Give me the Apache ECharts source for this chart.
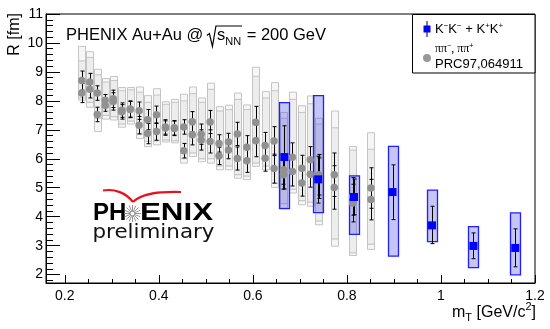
<!DOCTYPE html>
<html><head><meta charset="utf-8">
<script src="https://cdn.jsdelivr.net/npm/echarts@6/dist/echarts.min.js"></script>
<style>html,body{margin:0;padding:0;background:#fff}#c{width:550px;height:329px}</style>
</head><body><div id="c"></div>
<script>
// ---------- data ----------
const mT_pi   = [0.236,0.253,0.269,0.286,0.303,0.321,0.339,0.358,0.376,0.395,0.414,0.433,0.453,0.471,0.490,0.509,0.528,0.548,0.567,0.587,0.606,0.626,0.645,0.665,0.684,0.704,0.722,0.740,0.773,0.812,0.851];
const R_piA   = [8.70,8.65,8.27,8.02,8.07,7.68,7.72,7.66,7.35,7.52,7.10,7.07,7.10,7.28,6.85,7.27,6.53,6.58,6.86,6.40,7.26,6.46,6.61,5.62,6.05,5.67,5.97,5.45,5.45,4.70,4.99];
const R_piB   = [8.27,8.40,7.53,7.84,7.98,7.62,7.70,7.16,6.87,6.94,7.06,7.05,6.28,6.83,6.65,6.60,6.10,6.30,6.01,5.93,6.62,6.02,5.66,5.45,5.56,5.16,5.47,5.33,5.01,4.47,4.59];
const piStat  = [0.33,0.30,0.25,0.20,0.30,0.25,0.28,0.30,0.35,0.30,0.25,0.25,0.25,0.35,0.35,0.40,0.30,0.30,0.40,0.40,0.55,0.45,0.50,0.50,0.50,0.45,0.45,0.70,0.75,0.65,0.70];
const sysA_hi = [9.88,9.70,9.09,8.77,8.84,8.46,8.46,8.48,8.18,8.42,7.97,8.05,8.23,8.48,8.10,8.61,7.80,7.85,8.27,7.86,9.16,8.32,8.63,7.60,8.30,7.83,8.17,7.40,7.65,6.42,6.90];
const sysA_lo = [8.10,7.95,7.40,7.50,7.45,7.20,7.30,6.85,6.60,6.62,6.65,6.62,6.00,6.20,6.00,6.00,5.75,5.75,5.45,5.40,5.85,5.75,5.15,4.45,4.95,4.55,4.50,3.85,3.23,2.75,3.05];
const sysB_hi = [9.38,9.50,8.90,8.65,8.70,8.35,8.38,8.30,7.95,8.20,7.88,7.95,8.00,8.25,7.95,8.40,7.65,7.70,8.05,7.70,8.85,8.10,8.35,7.40,8.05,7.60,7.90,7.20,7.07,6.30,6.33];
const sysB_lo = [8.02,7.78,6.94,7.37,7.34,7.09,7.20,6.70,6.42,6.48,6.58,6.55,5.85,6.08,5.90,5.85,5.62,5.62,5.33,5.28,5.74,5.62,5.01,4.30,4.82,4.41,4.36,3.72,2.98,2.66,2.87];

const mT_K    = [0.667,0.739,0.815,0.897,0.981,1.069,1.158];
const R_K     = [6.06,5.29,4.68,4.85,3.70,2.99,2.92];
const K_statHi= [7.14,6.09,5.30,5.79,4.36,3.44,3.58];
const K_statLo= [4.96,4.47,4.07,3.90,3.07,2.55,2.27];
const K_sysHi = [7.94,8.18,5.41,6.43,4.92,3.66,4.13];
const K_sysLo = [4.28,4.14,3.39,2.64,3.14,2.24,1.99];

const xMajorTicks = [0.2,0.4,0.6,0.8,1,1.2];
const yMajorTicks = [2,3,4,5,6,7,8,9,10,11];
const xMinorTicks = [0.25,0.3,0.35,0.45,0.5,0.55,0.65,0.7,0.75,0.85,0.9,0.95,1.05,1.1,1.15];
const yMinorTicks = [];
for (let v = 18; v <= 108; v += 2) { if (v % 10 !== 0) yMinorTicks.push(v / 10); }

// ---------- helpers ----------
const FONT = '"Liberation Sans", Arial, Helvetica, sans-serif';
const cv = document.createElement('canvas').getContext('2d');
function fontStr(size, weight, fam){ return (weight||'normal') + ' ' + size + 'px ' + (fam||FONT); }
function tw(t, f){ cv.font = f; return cv.measureText(t).width; }
function textEl(x, base, t, size, o){
  o = o || {};
  const f = fontStr(size, o.weight, o.family);
  return {type:'text', x:x, y:base - 0.35*size, scaleX:o.scaleX||1, z:100,
    style:{text:t, font:f, fill:o.fill||'#000', align:'left', verticalAlign:'middle'}};
}
function seq(x, base, parts, align){
  const ws = parts.map(p => tw(p.t, fontStr(p.s, p.w, p.f)));
  const total = ws.reduce((a,b)=>a+b,0);
  if (align === 'right') x -= total;
  const els = []; let cx = x;
  parts.forEach((p,i) => { els.push(textEl(cx, base + (p.dy||0), p.t, p.s, {weight:p.w, family:p.f})); cx += ws[i]; });
  return {els, end:cx, start:x};
}

const graphics = [];
// Title
(function(){
  const S = 16.5, B = 41.5, x0 = 66;
  const a = seq(x0, B, [{t:'PHENIX Au+Au @ ', s:S}]);
  graphics.push(...a.els);
  const rx = a.end - 1;
  const b = seq(rx + 10, B, [{t:'s', s:S},{t:'NN', s:11, dy:4}]);
  graphics.push(...b.els);
  graphics.push({type:'polyline', z:100, shape:{points:[[rx,B-6],[rx+2.5,B-8],[rx+5.5,B+5],[rx+9,B-15.5],[b.end+1,B-15.5]]},
    style:{stroke:'#000', lineWidth:1.2, fill:null}});
  const c = seq(b.end + 1, B, [{t:' = 200 GeV', s:S}]);
  graphics.push(...c.els);
})();
// Y axis title
graphics.push({type:'text', x:15, y:13, rotation:Math.PI/2, z:100,
  style:{text:'R [fm]', font:fontStr(16), fill:'#000', align:'right', verticalAlign:'middle'}});
// X axis title
graphics.push(...seq(536, 318, [{t:'m',s:16},{t:'T',s:11,dy:4},{t:' [GeV/c',s:16},{t:'2',s:11,dy:-7},{t:']',s:16}], 'right').els);
// Legend
graphics.push({type:'rect', z:90, shape:{x:412.5, y:14.5, width:122.5, height:58.5}, style:{fill:'#fff', stroke:'#000', lineWidth:1}});
graphics.push({type:'line', z:95, shape:{x1:427, y1:21, x2:427, y2:37}, style:{stroke:'#000', lineWidth:1}});
graphics.push({type:'rect', z:96, shape:{x:423.5, y:25.5, width:7, height:7}, style:{fill:'#0000ff'}});
graphics.push(...seq(435, 34, [{t:'K',s:13},{t:'−',s:8,dy:-5},{t:'K',s:13},{t:'−',s:8,dy:-5},{t:' + K',s:13},{t:'+',s:8,dy:-5},{t:'K',s:13},{t:'+',s:8,dy:-5}]).els);
graphics.push({type:'circle', z:96, shape:{cx:427, cy:58, r:4}, style:{fill:'#999'}});
graphics.push(...seq(435, 53, [{t:'ππ',s:12,f:'"Liberation Serif", serif'},{t:'−',s:7,dy:-4},{t:', ππ',s:12,f:'"Liberation Serif", serif'},{t:'+',s:7,dy:-4}]).els);
graphics.push(...seq(435, 69, [{t:'PRC97,064911',s:13}]).els);
// PHENIX logo
(function(){
  const cx = 132.5, cy = 213.5;
  graphics.push({type:'bezierCurve', z:100, shape:{x1:103, y1:190.5, cpx1:115, cpy1:188.5, cpx2:126, cpy2:193, x2:133, y2:202},
    style:{stroke:'#e8141b', lineWidth:2.2, fill:null}});
  graphics.push({type:'bezierCurve', z:100, shape:{x1:133, y1:202, cpx1:142, cpy1:193, cpx2:160, cpy2:191.5, x2:181, y2:192},
    style:{stroke:'#e8141b', lineWidth:2.2, fill:null}});
  const fb = fontStr(24, 'bold');
  const wEN = tw('ENIX', fb);
  graphics.push(textEl(93, 222, 'PH', 24, {weight:'bold'}));
  graphics.push(textEl(140, 222, 'ENIX', 24, {weight:'bold', scaleX:73/wEN}));
  for (let i = 0; i < 16; i++) {
    const a = i * Math.PI / 8;
    graphics.push({type:'line', z:100, shape:{x1:cx+2.5*Math.cos(a), y1:cy+2.5*Math.sin(a), x2:cx+8.5*Math.cos(a), y2:cy+8.5*Math.sin(a)}, style:{stroke:'#888', lineWidth:0.9}});
  }
  graphics.push({type:'circle', z:100, shape:{cx:cx, cy:cy, r:2.3}, style:{fill:null, stroke:'#888', lineWidth:0.9}});
  const fp = fontStr(19, 'normal', '"DejaVu Sans", sans-serif');
  const wp = tw('preliminary', fp);
  graphics.push(textEl(92.5, 240, 'preliminary', 19, {family:'"DejaVu Sans", sans-serif', scaleX:122/wp, fill:'#111'}));
})();

// ---------- series builders ----------
function boxRender(halfW, fill, stroke, lw){
  return function(params, api){
    const x = api.value(0), lo = api.value(1), hi = api.value(2);
    const p1 = api.coord([x, hi]), p2 = api.coord([x, lo]);
    return {type:'rect', shape:{x:Math.round(p1[0]-halfW)+0.5, y:p1[1], width:2*halfW, height:p2[1]-p1[1]},
      style:{fill:fill, stroke:stroke, lineWidth:lw}};
  };
}
function errRender(cap, color){
  return function(params, api){
    const x = api.value(0), lo = api.value(1), hi = api.value(2);
    const p1 = api.coord([x, hi]), p2 = api.coord([x, lo]);
    const px = Math.round(p1[0]) + 0.5;
    const st = {stroke:color, lineWidth:1};
    return {type:'group', children:[
      {type:'line', shape:{x1:px, y1:p1[1], x2:px, y2:p2[1]}, style:st},
      {type:'line', shape:{x1:px-cap, y1:p1[1], x2:px+cap, y2:p1[1]}, style:st},
      {type:'line', shape:{x1:px-cap, y1:p2[1], x2:px+cap, y2:p2[1]}, style:st}
    ]};
  };
}
const piBoxA = mT_pi.map((x,i)=>[x, sysA_lo[i], sysA_hi[i]]);
const piBoxB = mT_pi.map((x,i)=>[x, sysB_lo[i], sysB_hi[i]]);
const piErrA = mT_pi.map((x,i)=>[x, R_piA[i]-piStat[i], R_piA[i]+piStat[i]]);
const piErrB = mT_pi.map((x,i)=>[x, R_piB[i]-piStat[i], R_piB[i]+piStat[i]]);
const kBox = mT_K.map((x,i)=>[x, K_sysLo[i], K_sysHi[i]]);
const kErr = mT_K.map((x,i)=>[x, K_statLo[i], K_statHi[i]]);

const chart = echarts.init(document.getElementById('c'), null, {renderer:'canvas'});
const axisFont = {fontFamily:FONT, fontSize:14, color:'#000'};
chart.setOption({
  animation:false,
  backgroundColor:'#fff',
  grid:{left:46, right:15, top:14, bottom:46, show:true, borderColor:'#000', borderWidth:1, backgroundColor:'transparent'},
  xAxis:[
    {type:'value', min:0.16, max:1.2, position:'bottom',
      axisLine:{show:true, lineStyle:{color:'#000', width:1}},
      axisTick:{show:true, inside:true, length:8, customValues:xMajorTicks, lineStyle:{color:'#000'}},
      axisLabel:Object.assign({customValues:xMajorTicks, margin:6, formatter:v=>String(+(+v).toFixed(2))}, axisFont),
      splitLine:{show:false}},
    {type:'value', min:0.16, max:1.2, position:'bottom', offset:0,
      axisLine:{show:false},
      axisTick:{show:true, inside:true, length:4, customValues:xMinorTicks, lineStyle:{color:'#000'}},
      axisLabel:{show:false}, splitLine:{show:false}}
  ],
  yAxis:[
    {type:'value', min:1.71, max:11, position:'left',
      axisLine:{show:true, lineStyle:{color:'#000', width:1}},
      axisTick:{show:true, inside:true, length:14, customValues:yMajorTicks, lineStyle:{color:'#000'}},
      axisLabel:Object.assign({customValues:yMajorTicks, margin:3, showMaxLabel:true}, axisFont),
      splitLine:{show:false}},
    {type:'value', min:1.71, max:11, position:'left', offset:0,
      axisLine:{show:false},
      axisTick:{show:true, inside:true, length:7, customValues:yMinorTicks, lineStyle:{color:'#000'}},
      axisLabel:{show:false}, splitLine:{show:false}}
  ],
  graphic:graphics,
  series:[
    {type:'custom', name:'piSysA', renderItem:boxRender(3.5,'rgba(0,0,0,0.035)','#c4c4c4',1), data:piBoxA, encode:{x:0,y:[1,2]}, clip:true, z:1},
    {type:'custom', name:'piSysB', renderItem:boxRender(3.5,'rgba(0,0,0,0.035)','#c4c4c4',1), data:piBoxB, encode:{x:0,y:[1,2]}, clip:true, z:1},
    {type:'custom', name:'kSys', renderItem:boxRender(5,'rgba(40,40,220,0.27)','#1f1fff',1.3), data:kBox, encode:{x:0,y:[1,2]}, clip:true, z:5},
    {type:'custom', name:'piErrA', renderItem:errRender(2,'#000'), data:piErrA, encode:{x:0,y:[1,2]}, clip:true, z:6},
    {type:'custom', name:'piErrB', renderItem:errRender(2,'#000'), data:piErrB, encode:{x:0,y:[1,2]}, clip:true, z:6},
    {type:'custom', name:'kErr', renderItem:errRender(2,'#000'), data:kErr, encode:{x:0,y:[1,2]}, clip:true, z:6},
    {type:'scatter', name:'ππ−', data:mT_pi.map((x,i)=>[x,R_piA[i]]), symbol:'circle', symbolSize:7.5, itemStyle:{color:'#919191', opacity:1}, z:7},
    {type:'scatter', name:'ππ+', data:mT_pi.map((x,i)=>[x,R_piB[i]]), symbol:'circle', symbolSize:7.5, itemStyle:{color:'#919191', opacity:1}, z:7},
    {type:'scatter', name:'KK', data:mT_K.map((x,i)=>[x,R_K[i]]), symbol:'rect', symbolSize:8, itemStyle:{color:'#0000ff', opacity:1}, z:8}
  ]
});
</script>
</body></html>
